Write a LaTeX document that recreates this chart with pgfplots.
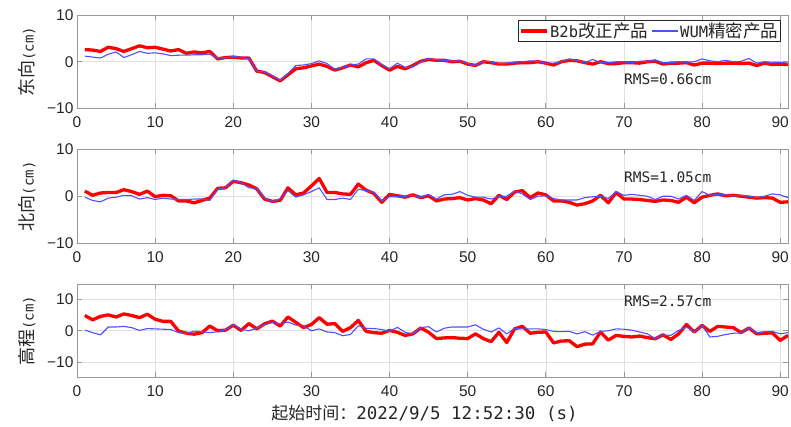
\documentclass[border=0pt]{standalone}
\usepackage{pgfplots}
\pgfplotsset{compat=1.18}
\usepackage{pgfplotstable}
\usepackage{fontspec}
\setmainfont{Liberation Sans}
\newfontfamily\cjk{Noto Sans CJK SC}
\setmonofont{DejaVu Sans Mono}
\definecolor{myblue}{RGB}{80,80,255}
\definecolor{txt}{RGB}{38,38,38}

\pgfplotstableread{
x r b
1 2.6 1.2
2 2.5 1.0
3 2.2 0.8
4 3.1 1.6
5 2.8 2.1
6 2.2 0.9
7 2.8 1.5
8 3.4 2.2
9 3.0 1.8
10 3.1 1.9
11 2.7 1.7
12 2.3 1.3
13 2.6 1.4
14 1.8 1.4
15 2.1 1.5
16 1.9 1.5
17 2.2 1.6
18 0.6 0.8
19 0.9 0.8
20 1.0 1.1
21 0.8 1.0
22 0.8 0.6
23 -2.0 -2.0
24 -2.3 -2.2
25 -3.2 -3.0
26 -4.1 -4.0
27 -2.8 -2.5
28 -1.5 -0.8
29 -1.3 -0.7
30 -0.9 -0.4
31 -0.5 0.2
32 -1.0 -0.4
33 -1.8 -1.6
34 -1.3 -1.2
35 -0.7 -0.7
36 -1.1 -0.5
37 -0.2 0.6
38 0.3 0.6
39 -0.8 -0.6
40 -1.8 -1.5
41 -1.0 -0.3
42 -1.5 -1.2
43 -0.8 -1.1
44 0.1 0.0
45 0.5 0.7
46 0.3 0.4
47 0.3 0.3
48 0.0 0.1
49 0.1 0.2
50 -0.5 -0.4
51 -0.8 -0.8
52 0.0 0.1
53 -0.2 0.0
54 -0.5 -0.4
55 -0.5 -0.3
56 -0.3 -0.1
57 -0.2 0.0
58 -0.2 0.2
59 0.0 0.1
60 -0.3 -0.3
61 -0.7 -0.3
62 0.0 0.0
63 0.3 0.6
64 0.2 0.3
65 -0.2 -0.2
66 -0.5 0.5
67 0.0 -0.2
68 -0.4 -0.2
69 -0.4 0.0
70 -0.2 0.0
71 -0.2 -0.2
72 -0.3 0.1
73 0.0 0.1
74 0.1 0.4
75 -0.5 -0.2
76 -0.3 -0.2
77 -0.3 0.0
78 -0.2 -0.1
79 -0.7 0.0
80 -0.3 0.6
81 -0.3 0.2
82 -0.4 0.0
83 -0.3 0.3
84 -0.3 0.0
85 -0.4 0.1
86 -0.3 0.7
87 -0.8 -0.3
88 -0.3 0.0
89 -0.6 -0.1
90 -0.5 -0.1
91 -0.6 -0.3
}\east

\pgfplotstableread{
x r b
1 1.1 -0.2
2 0.2 -0.9
3 0.7 -1.2
4 0.8 -0.4
5 0.8 -0.2
6 1.4 0.2
7 1.0 0.1
8 0.4 -0.6
9 1.1 -0.3
10 -0.1 -0.7
11 0.2 -0.4
12 0.1 -0.6
13 -1.0 -0.7
14 -1.0 -0.7
15 -1.4 -0.6
16 -0.9 -0.6
17 -0.4 -0.9
18 1.7 1.5
19 1.8 1.9
20 3.2 3.4
21 2.9 3.0
22 2.4 1.8
23 1.6 1.7
24 -0.6 -0.4
25 -1.1 -1.2
26 -0.9 -0.5
27 1.8 1.2
28 0.3 -0.2
29 0.7 0.3
30 2.2 1.0
31 3.8 1.8
32 0.8 -0.7
33 0.8 -0.7
34 0.5 -0.4
35 0.4 -0.7
36 2.6 1.5
37 1.3 1.2
38 0.6 0.8
39 -1.3 -1.0
40 0.4 -0.1
41 0.1 -0.1
42 -0.2 0.0
43 0.3 0.2
44 -0.3 -0.2
45 0.1 0.4
46 -1.0 -0.6
47 -0.6 0.3
48 -0.5 0.4
49 -0.3 1.0
50 -0.8 0.2
51 -0.5 -0.2
52 -0.8 -0.2
53 -1.6 -0.6
54 0.2 -0.1
55 -0.7 0.0
56 0.9 1.1
57 1.2 0.5
58 -0.3 -0.7
59 0.7 0.0
60 0.3 0.1
61 -1.0 -0.5
62 -1.0 -0.8
63 -1.3 -0.8
64 -1.9 -0.8
65 -1.6 -0.3
66 -1.0 -0.1
67 0.2 0.0
68 -1.4 -0.5
69 0.8 1.0
70 -0.6 0.2
71 -0.6 0.4
72 -0.7 0.2
73 -0.9 0.0
74 -1.1 -0.7
75 -0.8 0.0
76 -0.9 0.0
77 -1.3 -0.6
78 -0.2 0.2
79 -1.4 -0.9
80 -0.2 1.0
81 0.2 0.2
82 0.5 0.4
83 0.1 0.3
84 0.2 0.0
85 0.0 0.2
86 -0.2 0.0
87 -0.4 -0.3
88 -0.3 0.0
89 -0.4 0.5
90 -1.3 0.3
91 -1.2 -0.3
}\north

\pgfplotstableread{
x r b
1 4.9 0.2
2 3.5 -0.6
3 4.6 -1.3
4 5.1 1.2
5 4.4 1.2
6 5.4 1.4
7 4.9 1.0
8 4.2 0.1
9 5.3 0.7
10 3.7 0.6
11 3.0 0.5
12 3.0 0.4
13 -0.1 -0.6
14 -0.8 -0.9
15 -1.1 -0.1
16 -0.6 -0.3
17 1.5 -0.6
18 0.0 -0.3
19 0.2 0.4
20 1.8 2.0
21 0.1 0.5
22 2.3 0.0
23 0.6 0.8
24 2.2 2.0
25 3.1 2.6
26 1.5 2.2
27 4.4 2.8
28 2.7 1.8
29 1.0 1.6
30 2.0 0.0
31 4.2 0.6
32 2.1 -0.4
33 2.3 -0.6
34 -0.2 -1.6
35 1.0 -1.2
36 3.3 1.6
37 -0.2 0.8
38 -0.6 0.7
39 -0.8 0.4
40 0.1 -0.2
41 -0.5 1.1
42 -1.5 -0.5
43 -1.0 -1.0
44 0.9 1.0
45 -0.5 1.3
46 -2.5 -0.4
47 -2.3 0.8
48 -2.2 1.2
49 -2.4 1.2
50 -2.5 1.2
51 -1.0 1.9
52 -2.5 0.5
53 -3.5 -0.4
54 -0.5 0.9
55 -3.8 -1.0
56 0.6 0.7
57 1.4 0.6
58 -0.8 0.6
59 -0.5 0.6
60 -0.4 0.4
61 -3.9 -0.2
62 -3.3 -0.3
63 -3.2 -0.2
64 -5.1 -1.0
65 -4.3 -0.3
66 -4.2 -1.4
67 -0.4 -0.2
68 -3.0 0.0
69 -1.5 0.6
70 -1.8 0.5
71 -2.0 0.2
72 -1.7 -0.4
73 -2.2 -1.0
74 -2.6 -2.5
75 -1.3 -1.3
76 -2.8 -1.5
77 -1.0 0.1
78 2.0 1.2
79 -0.4 -0.4
80 1.7 1.7
81 -0.2 -2.0
82 1.4 -1.8
83 1.2 -1.2
84 1.0 -0.8
85 -0.6 -0.7
86 0.9 1.0
87 -1.0 -0.6
88 -0.8 -0.3
89 -0.7 -0.2
90 -3.1 -1.0
91 -1.5 -0.6
}\height

\pgfplotsset{
  panel/.style={
    scale only axis, width=711pt, height=93.5pt, anchor=south west,
    xmin=0, xmax=91, xtick={0,10,...,90},
    grid=major, major grid style={black!12, line width=0.5pt},
    axis line style={black!40, line width=0.8pt},
    tick style={black!40, line width=0.8pt}, major tick length=5pt,
    tick align=inside,
    ticklabel style={font=\fontsize{15.5}{18}\selectfont, text=txt},
    /pgf/number format/assume math mode=true,
    xticklabel style={yshift=-5pt},
    ylabel style={at={(axis description cs:0,0.5)}, anchor=center, rotate=0, yshift=50pt, text=txt},
  },
  red/.style={color=red, line width=3.3pt, line join=round},
  blu/.style={color=myblue, line width=1.1pt, line join=round},
}

\begin{document}
\begin{tikzpicture}
\path[use as bounding box] (-77pt,-49.5pt) rectangle (714pt,377.5pt);

\begin{axis}[panel, at={(0pt,269pt)}, ymin=-10, ymax=10, ytick={-10,0,10}, yticklabels={−10,0,10},
  ylabel={{\cjk\fontsize{18}{20}\selectfont 东向}{\ttfamily\fontsize{14}{15}\selectfont(cm)}},
  legend style={at={(rel axis cs:1,1)}, anchor=north east, xshift=-7pt, yshift=-5pt,
    draw=txt, line width=0.6pt, fill=white, inner sep=1pt,
    nodes={inner sep=1.5pt, text=txt}, font=\fontsize{15.5}{17}\selectfont,
    legend columns=2, /tikz/every even column/.append style={column sep=2pt}},
  legend image code/.code={\draw[#1] (0pt,0pt) -- (26pt,0pt);},
]
\addplot[red] table[x=x,y=r]{\east};
\addlegendentry{{\ttfamily B2b}{\cjk\fontsize{17.5}{18}\selectfont 改正产品}}
\addplot[blu] table[x=x,y=b]{\east};
\addlegendentry{{\ttfamily WUM}{\cjk\fontsize{17.5}{18}\selectfont 精密产品}}
\node[anchor=west, inner sep=0pt, text=txt, font=\ttfamily\fontsize{14.5}{17}\selectfont] at (axis cs:70,-3.7) {RMS=0.66cm};
\end{axis}

\begin{axis}[panel, at={(0pt,134.5pt)}, ymin=-10, ymax=10, ytick={-10,0,10}, yticklabels={−10,0,10},
  ylabel={{\cjk\fontsize{18}{20}\selectfont 北向}{\ttfamily\fontsize{14}{15}\selectfont(cm)}},
]
\addplot[red] table[x=x,y=r]{\north};
\addplot[blu] table[x=x,y=b]{\north};
\node[anchor=west, inner sep=0pt, text=txt, font=\ttfamily\fontsize{14.5}{17}\selectfont] at (axis cs:70,4.1) {RMS=1.05cm};
\end{axis}

\begin{axis}[panel, at={(0pt,0pt)}, ymin=-15, ymax=15, ytick={-10,0,10}, yticklabels={−10,0,10},
  ylabel={{\cjk\fontsize{18}{20}\selectfont 高程}{\ttfamily\fontsize{14}{15}\selectfont(cm)}},
  xlabel={{\cjk\fontsize{17}{20}\selectfont 起始时间：}{\ttfamily\fontsize{17.5}{20}\selectfont 2022/9/5 12:52:30 (s)}},
  xlabel style={at={(axis description cs:0.5,0)}, anchor=center, yshift=-36pt, xshift=-8pt, text=txt},
]
\addplot[red] table[x=x,y=r]{\height};
\addplot[blu] table[x=x,y=b]{\height};
\node[anchor=west, inner sep=0pt, text=txt, font=\ttfamily\fontsize{14.5}{17}\selectfont] at (axis cs:70,9.6) {RMS=2.57cm};
\end{axis}
\end{tikzpicture}
\end{document}
